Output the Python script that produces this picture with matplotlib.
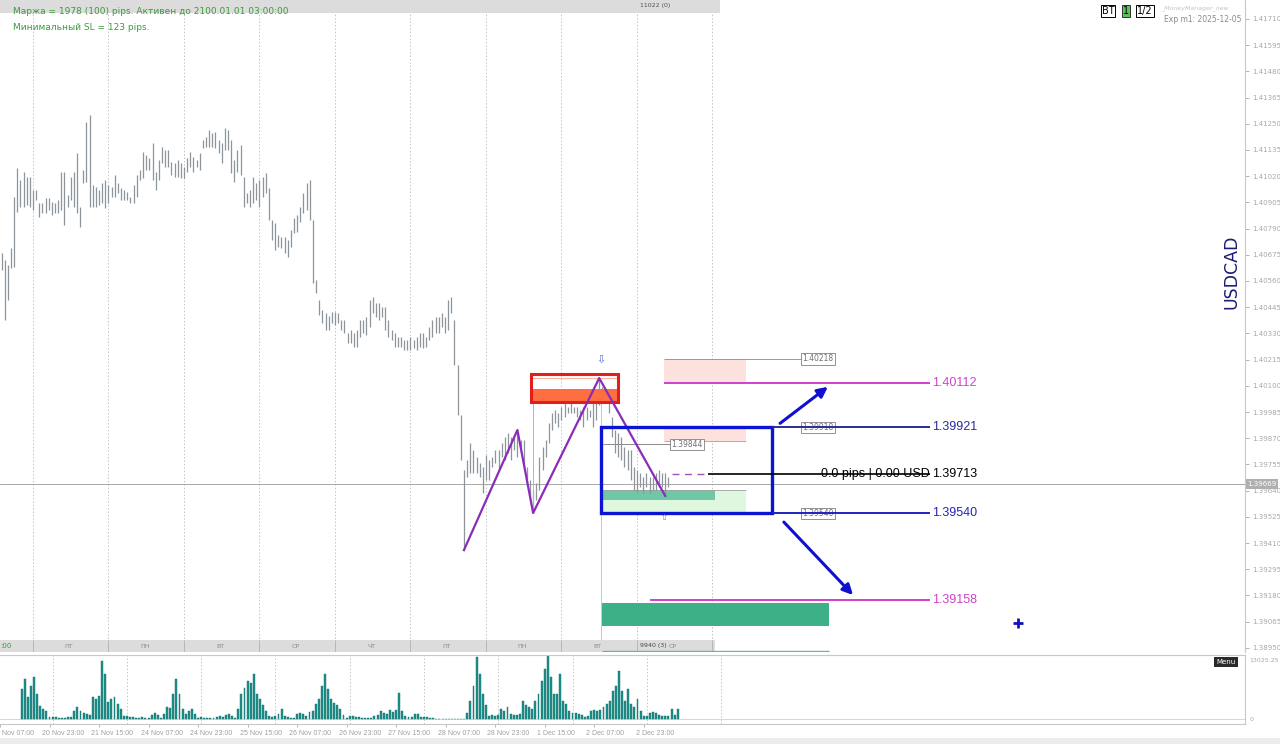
import matplotlib
matplotlib.use('Agg')
import matplotlib.pyplot as plt
from matplotlib.patches import Rectangle
import matplotlib.transforms as mtransforms

# USDCAD H1, bars from 20 Nov 14:00 to 3 Dec 10:00
# highs / lows in points above 1.39000
BASE = 1.39
bar_high = [1683, 1652, 1630, 1705, 1929, 2056, 2003, 2038, 2016, 2016,
            1959, 1959, 1902, 1902, 1924, 1924, 1907, 1902, 1915, 2038, 2038, 1937, 2016, 2038,
            2122, 1885, 2047, 2258, 2288, 1981, 1972, 1959, 1990, 2003,
            1981, 1972, 2025, 1990, 1968, 1959, 1950, 1929, 1981, 2025, 2047, 2126, 2113, 2100,
            2166, 2038, 2091, 2148, 2135, 2135, 2082, 2078, 2091, 2078,
            2060, 2100, 2126, 2104, 2091, 2122, 2179, 2192, 2223, 2209, 2214, 2179, 2166, 2231,
            2223, 2179, 2091, 2135, 2157, 2016, 1946, 1959, 2016, 1990,
            2003, 2016, 2034, 1968, 1828, 1815, 1762, 1753, 1753, 1740, 1784, 1836, 1850, 1885,
            1946, 1990, 2003, 1828, 1565, 1477, 1433, 1420, 1406, 1424,
            1424, 1420, 1389, 1389, 1332, 1345, 1332, 1345, 1389, 1389, 1402, 1477, 1490, 1464,
            1464, 1446, 1446, 1389, 1345, 1332, 1314, 1314, 1301, 1301,
            1314, 1301, 1314, 1332, 1332, 1314, 1358, 1389, 1402, 1402, 1420, 1402, 1477, 1490,
            1389, 1191, 972, 731, 775, 849, 818, 788, 761, 744,
            796, 775, 788, 818, 818, 849, 875, 893, 875, 875, 906, 862, 862, 744,
            687, 643, 674, 788, 832, 862, 937, 981, 994, 981,
            1007, 1025, 1007, 1051, 1007, 1007, 994, 1007, 1007, 994, 1025, 1038, 1134, 1095,
            1082, 1051, 963, 906, 893, 875, 832, 818, 818, 744,
            731, 718, 700, 718, 700, 700, 718, 731, 718, 718, 700]
bar_low = [1608, 1389, 1477, 1617, 1621, 1863, 1885, 1885, 1893, 1885,
           1871, 1915, 1841, 1858, 1858, 1871, 1850, 1858, 1858, 1871, 1806, 1885, 1915, 1885,
           1858, 1797, 1990, 1994, 1885, 1885, 1885, 1893, 1902, 1880,
           1902, 1929, 1929, 1946, 1915, 1915, 1915, 1902, 1902, 1929, 2003, 2012, 2047, 2047,
           2003, 1959, 2003, 2078, 2060, 2060, 2025, 2016, 2016, 2012,
           2012, 2038, 2060, 2038, 2060, 2047, 2144, 2148, 2148, 2148, 2144, 2122, 2078, 2135,
           2135, 2034, 1994, 2038, 2025, 1885, 1902, 1885, 1902, 1915,
           1885, 1929, 1946, 1828, 1740, 1696, 1709, 1705, 1683, 1665, 1709, 1771, 1775, 1819,
           1858, 1871, 1828, 1551, 1507, 1411, 1376, 1345, 1345, 1376,
           1367, 1376, 1345, 1332, 1288, 1288, 1270, 1270, 1314, 1332, 1323, 1358, 1420, 1402,
           1389, 1402, 1345, 1314, 1301, 1270, 1270, 1270, 1257, 1257,
           1257, 1266, 1257, 1270, 1266, 1270, 1301, 1314, 1332, 1332, 1358, 1332, 1345, 1420,
           1191, 972, 775, 379, 700, 718, 718, 718, 700, 630,
           687, 687, 744, 761, 731, 788, 775, 805, 775, 818, 788, 805, 744, 674,
           599, 542, 599, 643, 731, 788, 849, 906, 937, 919,
           950, 963, 981, 981, 981, 963, 950, 919, 950, 963, 919, 950, 1016, 1025,
           1025, 981, 875, 805, 788, 775, 744, 731, 687, 643,
           630, 656, 630, 656, 630, 643, 643, 656, 656, 617, 656]
volume = [6600, 8800, 4850, 7250, 9250, 5500, 2850, 2200, 1750, 450,
          450, 450, 200, 200, 200, 450, 450, 1750, 2650, 1750, 1300, 1100, 900, 4850,
          4400, 5050, 12800, 9900, 3750, 4400, 4850, 3300, 2200, 650,
          650, 450, 450, 200, 200, 450, 200, 200, 900, 1300, 900, 200, 1100, 2650,
          2400, 5500, 8800, 5500, 2200, 1100, 1750, 2200, 1100, 200,
          450, 200, 200, 200, 200, 450, 650, 450, 900, 1100, 650, 200, 2200, 5500,
          6800, 8350, 7900, 9900, 5500, 4400, 3100, 1750, 650, 450,
          650, 1100, 2200, 650, 450, 200, 200, 1100, 1300, 1100, 650, 1550, 1750, 3300,
          4400, 7250, 9900, 6600, 4400, 3500, 3100, 2200, 900, 200,
          650, 650, 450, 450, 200, 200, 200, 200, 650, 900, 1750, 1300, 1100, 2000,
          1550, 2000, 5700, 1750, 650, 450, 450, 1100, 1100, 450,
          450, 450, 200, 200, 100, 100, 100, 100, 100, 100, 100, 100, 100, 100,
          1300, 4000, 7250, 13700, 9900, 5500, 3100, 650, 900, 700,
          900, 2200, 1750, 2650, 1100, 900, 900, 1100, 4000, 3100, 2650, 2200, 4000, 5500,
          8350, 11000, 14100, 9250, 5500, 5500, 9900, 4000, 3300, 1750,
          1300, 1300, 1100, 900, 450, 650, 1750, 2000, 1750, 2000, 2650, 3300, 4000, 6200,
          7250, 10600, 6200, 4000, 6600, 3300, 2650, 4400, 1750, 650,
          650, 1300, 1550, 1300, 900, 650, 650, 650, 2200, 900, 2200]

price_ticks = [1.41710, 1.41595, 1.41480, 1.41365, 1.41250, 1.41135, 1.41020, 1.40905,
               1.40790, 1.40675, 1.40560, 1.40445, 1.40330, 1.40215, 1.40100, 1.39985,
               1.39870, 1.39755, 1.39640, 1.39525, 1.39410, 1.39295, 1.39180, 1.39065, 1.38950]
day_starts = [10, 34, 58, 82, 106, 130, 154, 178, 202, 226]
day_names = ['ПТ', 'ПН', 'ВТ', 'СР', 'ЧТ', 'ПТ', 'ПН', 'ВТ', 'СР']
date_pos = [-7, 9, 25, 41, 57, 73, 89, 105, 121, 137, 153, 169, 185, 201]
date_labels = ['20 Nov 07:00', '20 Nov 23:00', '21 Nov 15:00', '24 Nov 07:00', '24 Nov 23:00',
               '25 Nov 15:00', '26 Nov 07:00', '26 Nov 23:00', '27 Nov 15:00', '28 Nov 07:00',
               '28 Nov 23:00', '1 Dec 15:00', '2 Dec 07:00', '2 Dec 23:00']

# zigzag pivots (bar, price)
zz_bar = [147, 164, 169, 190, 211]
zz_price = [1.39379, 1.39906, 1.39542, 1.40134, 1.39617]

current_price = 1.39669
lvl_sl_box = 1.40218
lvl_tp_up = 1.40112
lvl_upper = 1.39921
lvl_upper_box = 1.39918
lvl_mid = 1.39844
lvl_now = 1.39713
lvl_lower = 1.39540
lvl_tp_down = 1.39158
zone_top, zone_bottom, zone_fill_top, zone_line = 1.40152, 1.40029, 1.40086, 1.40134

W, H = 1280, 744
fig = plt.figure(figsize=(12.8, 7.44), dpi=100)
ax = fig.add_axes([0, 1 - 652 / H, 1245 / W, 652 / H])
axv = fig.add_axes([0, 1 - 724 / H, 1245 / W, 69 / H])
XL = (-0.48, 395.3)
YL = (1.38932, 1.41793)

idx = list(range(len(bar_high)))
hi = [BASE + v / 1e5 for v in bar_high]
lo = [BASE + v / 1e5 for v in bar_low]

ax.set_xlim(*XL)
ax.set_ylim(*YL)
for s in ['top', 'left', 'bottom']:
    ax.spines[s].set_visible(False)
ax.spines['right'].set_color('#c8c8c8')
ax.yaxis.tick_right()
ax.set_yticks(price_ticks)
ax.set_yticklabels(['%.5f' % p for p in price_ticks])
ax.tick_params(axis='y', length=3, width=0.6, colors='#a8a8a8', labelsize=5, pad=2)
ax.set_xticks([])

# day separators
ax.vlines(day_starts, YL[0], YL[1], colors='#c4c4c4', linestyles=(0, (1.5, 2)), lw=0.7, zorder=0)

# current price line
ax.axhline(current_price, color='#a8a8a8', lw=0.7, zorder=1)

# price bars
ax.vlines(idx, lo, hi, colors='#8d949a', lw=0.9, zorder=2)

# zone (red)
ax.add_patch(Rectangle((168.5, zone_bottom), 27.5, zone_fill_top - zone_bottom,
                       facecolor='#ff6e40', edgecolor='none', zorder=3))
ax.hlines(zone_line, 168.6, 195.8, colors='#ffb49a', lw=0.8, zorder=3)
ax.add_patch(Rectangle((168.3, zone_bottom), 27.8, zone_top - zone_bottom,
                       facecolor='none', edgecolor='#e01e1e', lw=2.2, zorder=4))
ax.vlines(168.8, 1.39555, zone_bottom, colors='#f4a080', lw=0.7, zorder=2)
ax.vlines(190.6, YL[0], zone_bottom, colors='#c8c8c8', lw=0.7, zorder=1)

# trade boxes
ax.add_patch(Rectangle((210.6, lvl_tp_up), 26.1, lvl_sl_box - lvl_tp_up,
                       facecolor='#fde1dc', edgecolor='none', zorder=1))
ax.add_patch(Rectangle((210.6, 1.39860), 26.1, lvl_upper - 1.39860,
                       facecolor='#fde1dc', edgecolor='none', zorder=1))
ax.hlines(1.39860, 210.6, 236.7, colors='#a0a0a0', lw=0.6, zorder=1)
ax.add_patch(Rectangle((191.2, 1.39546), 45.5, 1.39643 - 1.39546,
                       facecolor='#dff7df', edgecolor='none', zorder=1))
ax.add_patch(Rectangle((191.2, 1.39599), 35.6, 1.39643 - 1.39599,
                       facecolor='#6ec8a6', edgecolor='none', zorder=1.5))
ax.hlines(1.39643, 191.2, 236.7, colors='#a0a0a0', lw=0.6, zorder=1.6)
ax.add_patch(Rectangle((191.0, 1.39046), 72.0, 1.39147 - 1.39046,
                       facecolor='#3db088', edgecolor='none', zorder=1))

# zigzag
ax.plot(zz_bar, zz_price, color='#8a2cb8', lw=1.6, zorder=5)

# blue box
ax.add_patch(Rectangle((190.6, lvl_lower), 54.4, lvl_upper - lvl_lower,
                       facecolor='none', edgecolor='#0a14d2', lw=2.4, zorder=6))

# level lines
lab_x = 295.7
ax.hlines(lvl_sl_box, 210.6, 254.4, colors='#9a9a9a', lw=0.7, zorder=2)
ax.hlines(lvl_tp_up, 210.6, 295.1, colors='#d040d0', lw=1.4, zorder=3)
ax.hlines(lvl_upper, 245, 295.1, colors='#2b2b9a', lw=1.4, zorder=7)
ax.hlines(lvl_mid, 191.2, 212.8, colors='#8a8a8a', lw=0.7, zorder=2)
ax.hlines(lvl_now, 213.1, 224.6, colors='#a050c0', lw=1.0, linestyles=(0, (5, 4)), zorder=3)
ax.hlines(lvl_now, 224.6, 295.1, colors='black', lw=1.2, zorder=7)
ax.hlines(lvl_lower, 245, 295.1, colors='#2020c0', lw=1.4, zorder=7)
ax.hlines(lvl_tp_down, 206.1, 295.1, colors='#d040d0', lw=1.4, zorder=3)

lbl = dict(fontsize=9, family='Liberation Sans', va='center', ha='left', zorder=8)
ax.text(lab_x, lvl_tp_up, '%.5f' % lvl_tp_up, color='#cc44cc', **lbl)
ax.text(lab_x, lvl_upper, '%.5f' % lvl_upper, color='#2b2b9a', **lbl)
ax.text(lab_x, lvl_now, '%.5f' % lvl_now, color='black', **lbl)
ax.text(lab_x, lvl_lower, '%.5f' % lvl_lower, color='#2424b8', **lbl)
ax.text(lab_x, lvl_tp_down, '%.5f' % lvl_tp_down, color='#cc44cc', **lbl)
ax.text(295.1, lvl_now, '0.0 pips | 0.00 USD', color='black', fontsize=9,
        family='Liberation Sans', va='center', ha='right', zorder=6)

box = dict(fontsize=5.5, color='#707070', va='center', ha='left', zorder=6,
           bbox=dict(facecolor='white', edgecolor='#808080', lw=0.6, pad=0.8))
ax.text(254.6, lvl_sl_box, '%.5f' % lvl_sl_box, **box)
ax.text(254.6, lvl_upper_box, '%.5f' % lvl_upper_box, **box)
ax.text(213.0, lvl_mid, '%.5f' % lvl_mid, **box)
ax.text(254.6, lvl_lower, '%.5f' % lvl_lower, **box)

# arrows
arw = dict(arrowstyle='-|>,head_length=0.6,head_width=0.3', color='#1010d0', lw=2.2)
ax.annotate('', xy=(263.4, 1.40103), xytext=(246.8, 1.39928), arrowprops=arw, zorder=7)
ax.annotate('', xy=(271.3, 1.39173), xytext=(248.1, 1.39511), arrowprops=arw, zorder=7)
ax.plot([323], [1.39059], marker='+', color='#1010c0', ms=7, mew=2, zorder=7)
ax.text(190.6, 1.40213, '⇩', color='#5a70d0', fontsize=8, ha='center', va='center', zorder=7)
ax.text(210.6, 1.39523, '⇧', color='#5a70d0', fontsize=6, ha='center', va='center', zorder=7)

# top strip and day strip
ax.add_patch(Rectangle((0, 1 - 13 / 652), 720 / 1245, 13 / 652, transform=ax.transAxes,
                       facecolor='#dcdcdc', edgecolor='none', zorder=9))
ax.text(203, 1 - 5 / 652, '11022 (0)', transform=ax.get_xaxis_transform(), fontsize=4.5,
        color='#555555', ha='left', va='center', zorder=10)
ax.add_patch(Rectangle((0, 0), 715 / 1245, 12 / 652, transform=ax.transAxes,
                       facecolor='#dcdcdc', edgecolor='none', zorder=9))
trans = ax.get_xaxis_transform()
ax.vlines(day_starts, 0, 12 / 652, transform=trans, colors='#b0b0b0', lw=0.6, zorder=10)
for d, name in zip(day_starts, day_names):
    ax.text(d + 11.5, 6 / 652, name, transform=trans, fontsize=4.5, color='#8a8a8a',
            ha='center', va='center', zorder=10)
ax.text(203, 6 / 652, '9940 (3)', transform=trans, fontsize=4.5, color='#444444',
        ha='left', va='center', zorder=10)
ax.text(-0.4, 6 / 652, ':00', transform=trans, fontsize=5, color='#3c9a3c',
        ha='left', va='center', zorder=10)
ax.hlines(1.38937, 191.0, 263.0, colors='#66b89a', lw=1.0, zorder=11)

# current price label on axis
ax.text(1.002, current_price, '%.5f' % current_price, transform=ax.get_yaxis_transform(),
        fontsize=5, color='white', va='center', ha='left', clip_on=False, zorder=12,
        bbox=dict(facecolor='#b0b0b0', edgecolor='none', pad=1.2))

# volume panel
axv.set_xlim(*XL)
axv.set_ylim(-1104, 14130)
axv.bar(idx, volume, width=0.62, color='#1f8f8a', edgecolor='#11706b', linewidth=0.3, zorder=2)
axv.vlines(day_starts, -1104, 14130, colors='#c4c4c4', linestyles=(0, (1.5, 2)), lw=0.7, zorder=0)
axv.axhline(0, color='#d0d0d0', lw=0.6, zorder=1)
axv.spines['left'].set_visible(False)
for s in ['right', 'top', 'bottom']:
    axv.spines[s].set_color('#c8c8c8')
axv.yaxis.tick_right()
axv.set_yticks([0, 13025.25])
axv.set_yticklabels(['0', '13025.25'])
axv.tick_params(axis='y', length=0, colors='#a8a8a8', labelsize=4.5, pad=3)
axv.set_xticks(date_pos)
axv.set_xticklabels(date_labels, ha='left', family='Liberation Sans')
axv.tick_params(axis='x', length=2, width=0.5, colors='#a0a0a0', labelsize=5, pad=2)
shift = mtransforms.ScaledTranslation(-0.08, 0, fig.dpi_scale_trans)
for t in axv.get_xticklabels():
    t.set_transform(t.get_transform() + shift)

# header texts
fig.text(13 / W, 1 - 11 / H, 'Маржа = 1978 (100) pips. Активен до 2100.01.01 03:00:00',
         fontsize=6.5, color='#3c9a3c', va='center', ha='left')
fig.text(13 / W, 1 - 27 / H, 'Минимальный SL = 123 pips.',
         fontsize=6.5, color='#3c9a3c', va='center', ha='left')
fig.text(1108 / W, 1 - 11 / H, 'BT', fontsize=7, color='black', ha='center', va='center',
         bbox=dict(facecolor='white', edgecolor='black', lw=0.7, pad=0.8))
fig.text(1126 / W, 1 - 11 / H, '1', fontsize=7, color='black', ha='center', va='center',
         bbox=dict(facecolor='#5cc35c', edgecolor='#333333', lw=0.7, pad=0.8))
fig.text(1145 / W, 1 - 11 / H, '1/2', fontsize=7, color='black', ha='center', va='center',
         bbox=dict(facecolor='white', edgecolor='black', lw=0.7, pad=0.8))
fig.text(1161 / W, 1 - 8 / H, '_MoneyManager_new', fontsize=4.5, color='#c4c4c4',
         ha='left', va='center', style='italic')
fig.text(1242 / W, 1 - 19 / H, 'Exp m1: 2025-12-05', fontsize=5.5, color='#8a8a8a',
         ha='right', va='center')
fig.text(1232 / W, 1 - 272 / H, 'USDCAD', rotation=90, fontsize=12.5, color='#1c1c78',
         ha='center', va='center')
fig.text(1226 / W, 1 - 662 / H, 'Menu', fontsize=5, color='white', ha='center', va='center',
         bbox=dict(facecolor='#2a2a2a', edgecolor='none', pad=1.5))
fig.patches.append(Rectangle((0, 0), 1, 6 / H, transform=fig.transFigure,
                             facecolor='#ececec', edgecolor='none'))

fig.savefig('out.png', dpi=100)
